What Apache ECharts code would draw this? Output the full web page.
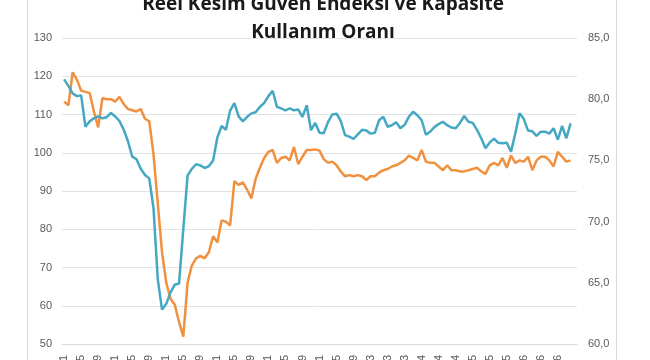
<!DOCTYPE html>
<html><head><meta charset="utf-8">
<script src="https://cdn.jsdelivr.net/npm/echarts@6/dist/echarts.min.js"></script>
<style>html,body{margin:0;padding:0;background:#fff}#c{width:650px;height:360px}</style>
</head><body><div id="c"></div>
<script>
var titleText = "Reel Kesim Güven Endeksi ve Kapasite\nKullanım Oranı";
var years = [2007,2008,2009,2010,2011,2012,2013,2014,2015,2016];
var trMonths = ["Oca","Şub","Mar","Nis","May","Haz","Tem","Ağu","Eyl","Eki","Kas","Ara"];
// Reel Kesim Güven Endeksi (left axis), monthly 2007-01 .. 2016-12
var rkge = [
119.2,117.5,115.5,114.8,115.0,106.8,108.2,109.0,109.5,109.0,109.3,110.4,
109.5,108.3,106.0,103.0,99.0,98.3,95.8,94.2,93.3,85.5,67.0,59.0,
60.5,63.5,65.5,65.8,80.0,94.0,95.8,97.0,96.7,96.0,96.5,98.0,
104.0,107.0,106.0,111.0,113.0,109.5,108.2,109.4,110.3,110.6,112.0,113.0,
114.8,116.2,112.0,111.6,111.1,111.6,111.1,111.3,109.4,112.4,105.9,107.8,
105.2,105.1,108.0,110.0,110.2,108.3,104.6,104.2,103.6,104.8,106.0,105.8,
105.0,105.2,108.5,109.4,106.8,107.2,108.0,106.4,107.3,109.4,110.7,109.8,
108.5,104.7,105.5,106.7,107.5,108.1,107.2,106.6,106.4,107.8,109.6,108.1,
107.8,106.0,103.8,101.2,102.7,103.7,102.6,102.5,102.6,100.3,105.0,110.3,
108.8,105.8,105.6,104.4,105.5,105.5,105.0,106.4,103.4,107.0,103.8,107.7
];
// Kapasite Kullanım Oranı (right axis)
var kko = [
79.8,79.5,82.2,81.6,80.7,80.6,80.5,79.0,77.7,80.1,80.0,80.0,
79.8,80.2,79.6,79.2,79.1,79.0,79.2,78.4,78.2,75.5,71.5,67.5,
65.0,63.7,63.2,61.8,60.6,65.0,66.4,67.0,67.2,67.0,67.5,68.8,
68.3,70.1,70.0,69.7,73.3,73.0,73.2,72.6,71.9,73.5,74.4,75.2,
75.7,75.85,74.8,75.2,75.3,75.0,76.1,74.7,75.3,75.85,75.85,75.9,
75.8,75.1,74.8,74.9,74.6,74.1,73.7,73.8,73.7,73.8,73.7,73.4,
73.7,73.7,74.0,74.2,74.3,74.5,74.6,74.8,75.0,75.4,75.2,75.0,
75.85,74.9,74.8,74.8,74.5,74.2,74.6,74.2,74.2,74.1,74.1,74.2,
74.3,74.4,74.1,73.9,74.6,74.8,74.6,75.2,74.4,75.4,74.8,75.0,
74.9,75.3,74.2,75.0,75.3,75.3,75.0,74.5,75.7,75.3,74.9,75.0
];
var leftAxis = {min:50, max:130, interval:10};
var rightAxis = {min:60, max:85, interval:5};

var categories = [];
years.forEach(function(y){
  for (var m=1;m<=12;m++){
    categories.push(y < 2013 ? (y + "-" + m) : (trMonths[m-1] + "." + String(y).slice(2)));
  }
});
categories.push("");

var chart = echarts.init(document.getElementById('c'), null, {renderer:'canvas'});
var gray = '#595959';
chart.setOption({
  animation:false,
  backgroundColor:'#fff',
  title:{
    text:titleText, left:318, top:-14, textAlign:'center',
    textStyle:{fontFamily:'Open Sans', fontWeight:'bold', fontSize:19, color:'#1a1a1a', lineHeight:28}
  },
  graphic:[
    {type:'line', shape:{x1:27.5,y1:0,x2:27.5,y2:360}, style:{stroke:'#d9d9d9', lineWidth:1}},
    {type:'line', shape:{x1:616.5,y1:0,x2:616.5,y2:360}, style:{stroke:'#d9d9d9', lineWidth:1}}
  ],
  grid:{left:62, right:73, top:38, bottom:16, containLabel:false, outerBoundsMode:'none'},
  xAxis:{
    type:'category', data:categories, boundaryGap:true,
    axisLine:{show:true, lineStyle:{color:'#d9d9d9'}},
    axisTick:{show:false},
    axisLabel:{
      rotate:90, margin:11, fontSize:11, color:gray, fontFamily:'Liberation Sans',
      interval:function(i){ return i % 4 === 0 && i < 120; }
    },
    splitLine:{show:false}
  },
  yAxis:[
    {type:'value', min:leftAxis.min, max:leftAxis.max, interval:leftAxis.interval, position:'left',
     axisLine:{show:false}, axisTick:{show:false},
     axisLabel:{fontSize:11, color:gray, margin:10, fontFamily:'Liberation Sans'},
     splitLine:{show:true, lineStyle:{color:'#e3e3e3', width:1}}},
    {type:'value', min:rightAxis.min, max:rightAxis.max, interval:rightAxis.interval, position:'right',
     axisLine:{show:false}, axisTick:{show:false},
     axisLabel:{fontSize:11, color:gray, margin:11, fontFamily:'Liberation Sans',
       formatter:function(v){ return v.toFixed(1).replace('.', ','); }},
     splitLine:{show:false}}
  ],
  series:[
    {name:'Reel Kesim Güven Endeksi', type:'line', yAxisIndex:0, data:rkge, symbol:'none',
     lineStyle:{color:'#45a8c2', width:2.5}, itemStyle:{color:'#45a8c2'}, z:3},
    {name:'Kapasite Kullanım Oranı', type:'line', yAxisIndex:1, data:kko, symbol:'none',
     lineStyle:{color:'#f0913f', width:2.5}, itemStyle:{color:'#f0913f'}, z:2}
  ]
});
</script>
</body></html>
